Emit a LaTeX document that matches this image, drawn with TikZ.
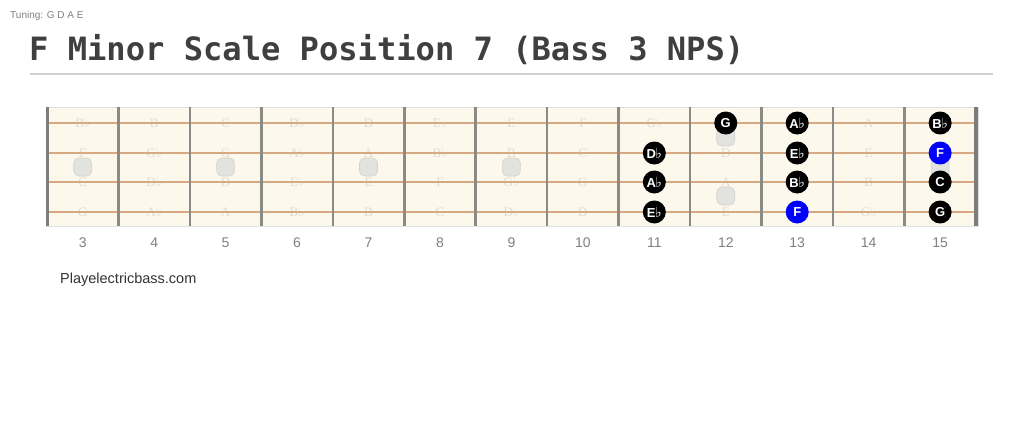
\documentclass[tikz,border=0pt]{standalone}
\usepackage{fontspec}
\setmainfont{Liberation Sans}
\newfontfamily\monob{DejaVu Sans Mono}
\newfontfamily\serifn{Liberation Serif}
\newfontfamily\dvs{DejaVu Sans}
\newcommand\fl{{\dvs\char"266D}}
\newcommand\flb{\kern-0.5pt{\dvs\bfseries\fontsize{14}{14}\selectfont\char"266D}}
\definecolor{boardbg}{HTML}{FDF8EC}
\definecolor{strc}{HTML}{D6A982}
\definecolor{fretc}{HTML}{8A8A86}
\definecolor{faintc}{HTML}{E0DBD1}
\definecolor{inlayfill}{HTML}{E2E2DF}
\definecolor{inlaydraw}{HTML}{D2D2CE}
\definecolor{titlec}{HTML}{3F3F3F}
\definecolor{numc}{HTML}{808080}
\definecolor{bluenote}{HTML}{0000FF}
\tikzset{
  faintnote/.style={text=faintc, font=\serifn\fontsize{13}{13}\selectfont, inner sep=0pt},
  inlay/.style={fill=inlayfill, draw=inlaydraw, line width=0.6pt, rounded corners=5pt, minimum size=18pt, inner sep=0pt},
  scalenote/.style={circle, fill=black, text=white, minimum size=23pt, inner sep=0pt, font=\bfseries\fontsize{13}{13}\selectfont},
  rootnote/.style={scalenote, fill=bluenote},
  fretnum/.style={text=numc, font=\fontsize{14}{14}\selectfont, inner sep=0pt},
  stringline/.style={strc, line width=2pt},
  fretline/.style={fretc, line width=2.6pt},
}
\begin{document}
\begin{tikzpicture}[x=1pt,y=-1pt]
\useasboundingbox (0,0) rectangle (1024,420);
\fill[white] (0,0) rectangle (1024,420);
% header
\node[anchor=west, inner sep=0pt, text=numc, font=\fontsize{10}{10}\selectfont] (tuning) at (10,16) {Tuning: G D A E};
\node[anchor=base west, inner sep=0pt, text=titlec, font=\monob\bfseries\fontsize{32.1}{32.1}\selectfont] (title) at (29,60) {F Minor Scale Position 7 (Bass 3 NPS)};
\draw[black!18, line width=1.6pt] (30,74) -- (993,74);
% board
\fill[boardbg, draw=black!12, line width=1pt] (46,107) rectangle (978,226);
% faint note names
\def\fw{71.45}
\foreach \s/\y/\names in {
  1/123/{B\fl,B,C,D\fl,D,E\fl,E,F,G\fl,,,A,},
  2/153/{F,G\fl,G,A\fl,A,B\fl,B,C,,D,,E,},
  3/182/{C,D\fl,D,E\fl,E,F,G\fl,G,,A,,B,},
  4/212/{G,A\fl,A,B\fl,B,C,D\fl,D,,E,,G\fl,}} {
  \foreach \nm [count=\i from 0] in \names {
    \node[faintnote] (f-\s-\i) at ({47+(\i+0.5)*\fw},\y) {\nm};
  }
}
% strings
\foreach \s/\y in {1/123,2/153,3/182,4/212}
  \draw[stringline] (46,\y) coordinate (sL\s) -- (978,\y) coordinate (sR\s);
% frets
\foreach \k in {1,...,12}
  \draw[fretline] ({47+\k*\fw},107) -- ({47+\k*\fw},226);
\draw[fretc!90!black, line width=3.4pt] (47.5,107) -- (47.5,226);
\draw[fretc!90!black, line width=3.4pt] (976,107) -- (976,226);
% inlays
\foreach \fr in {3,5,7,9,15}
  \node[inlay] (dot\fr) at ({47+(\fr-2.5)*\fw},167) {};
\node[inlay] (dot12a) at ({47+9.5*\fw},137) {};
\node[inlay] (dot12b) at ({47+9.5*\fw},196) {};
% scale notes
\foreach \fr/\y/\nm/\sty in {
  12/123/G/scalenote, 13/123/A\flb/scalenote, 15/123/B\flb/scalenote,
  11/153/D\flb/scalenote, 13/153/E\flb/scalenote, 15/153/F/rootnote,
  11/182/A\flb/scalenote, 13/182/B\flb/scalenote, 15/182/C/scalenote,
  11/212/E\flb/scalenote, 13/212/F/rootnote, 15/212/G/scalenote} {
  \node[\sty] (n-\fr-\y) at ({47+(\fr-2.5)*\fw},\y) {\nm};
}
% fret numbers
\foreach \fr in {3,...,15}
  \node[fretnum] (num\fr) at ({47+(\fr-2.5)*\fw},243) {\fr};
\node[anchor=west, inner sep=0pt, text=black!80, font=\fontsize{14.5}{14.5}\selectfont] (site) at (60,280) {Playelectricbass.com};
\end{tikzpicture}
\end{document}
